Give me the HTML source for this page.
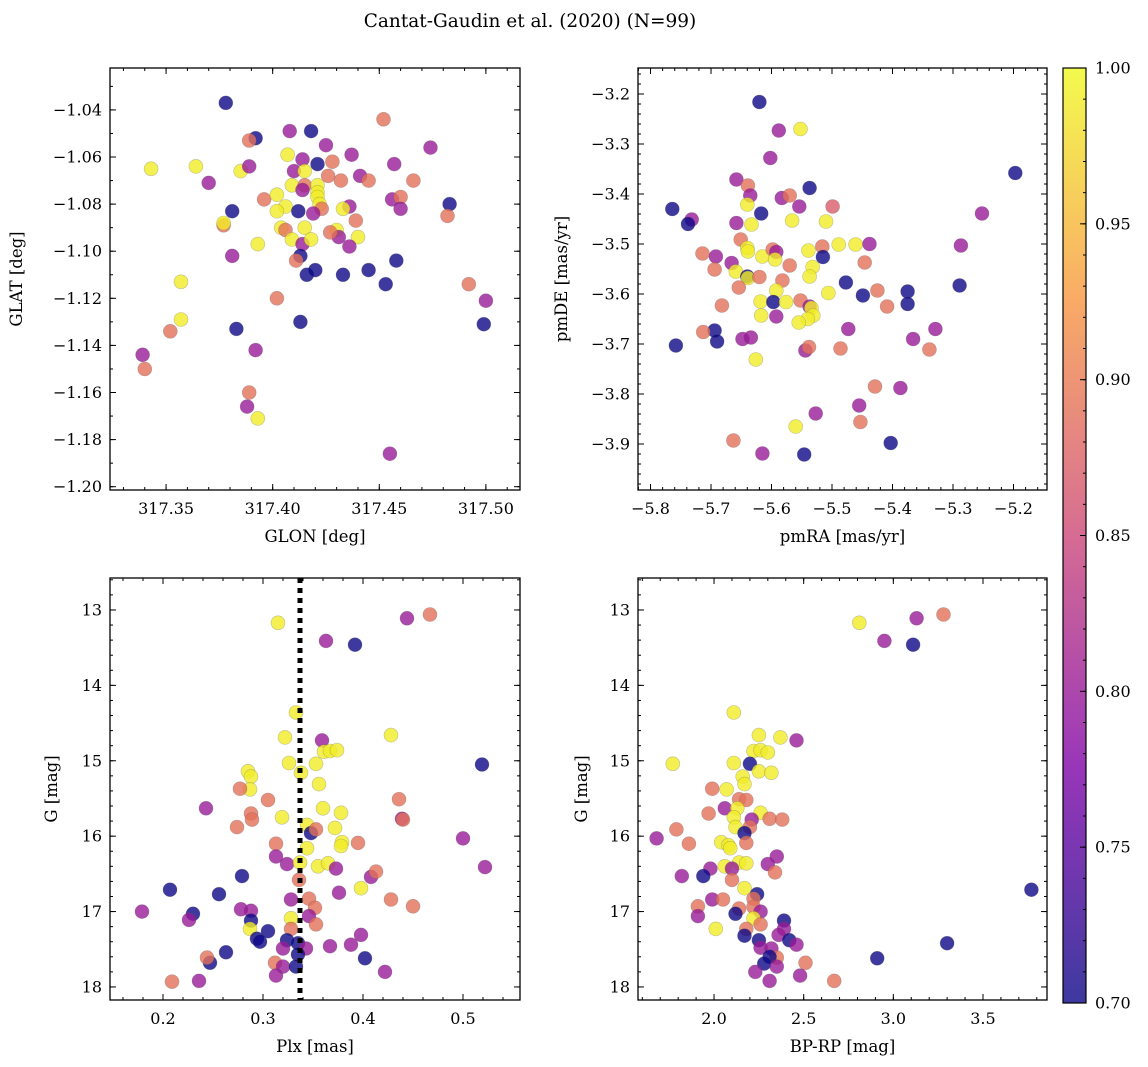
<!DOCTYPE html>
<html><head><meta charset="utf-8"><style>
html,body{margin:0;padding:0;background:#fff;}
svg{display:block;font-family:"DejaVu Serif","Liberation Serif",serif;}
</style></head><body>
<svg id="fig" width="1148" height="1067" viewBox="0 0 1148 1067" xmlns="http://www.w3.org/2000/svg">
<text x="530" y="27" font-size="18.5" text-anchor="middle">Cantat-Gaudin et al. (2020) (N=99)</text>
</svg>
<script>
// Panel 1: GLON vs GLAT
const p1x=[317.378,317.392,317.389,317.408,317.418,317.425,317.452,317.474,317.343,317.364,317.385,317.389,317.370,317.407,317.414,317.421,317.428,317.437,317.457,317.410,317.415,317.426,317.432,317.441,317.445,317.466,317.409,317.415,317.421,317.421,317.414,317.421,317.422,317.423,317.396,317.402,317.406,317.402,317.412,317.419,317.436,317.433,317.456,317.460,317.460,317.439,317.483,317.482,317.381,317.377,317.377,317.404,317.406,317.415,317.409,317.414,317.418,317.430,317.431,317.427,317.440,317.436,317.393,317.381,317.413,317.411,317.416,317.420,317.433,317.445,317.458,317.453,317.492,317.500,317.499,317.357,317.402,317.413,317.357,317.352,317.383,317.339,317.340,317.392,317.389,317.388,317.393,317.455];
const p1y=[-1.037,-1.052,-1.053,-1.049,-1.049,-1.055,-1.044,-1.056,-1.065,-1.064,-1.066,-1.064,-1.071,-1.059,-1.061,-1.063,-1.062,-1.059,-1.063,-1.066,-1.066,-1.068,-1.070,-1.068,-1.070,-1.070,-1.072,-1.072,-1.072,-1.075,-1.074,-1.077,-1.080,-1.082,-1.078,-1.076,-1.081,-1.083,-1.083,-1.084,-1.081,-1.082,-1.078,-1.077,-1.082,-1.087,-1.080,-1.085,-1.083,-1.089,-1.088,-1.090,-1.091,-1.090,-1.095,-1.097,-1.095,-1.091,-1.094,-1.092,-1.094,-1.098,-1.097,-1.102,-1.102,-1.104,-1.110,-1.108,-1.110,-1.108,-1.104,-1.114,-1.114,-1.121,-1.131,-1.113,-1.120,-1.130,-1.129,-1.134,-1.133,-1.144,-1.150,-1.142,-1.160,-1.166,-1.171,-1.186];
const p1c=[0.70,0.70,0.89,0.80,0.70,0.80,0.89,0.80,0.99,0.99,0.99,0.80,0.80,0.99,0.80,0.70,0.89,0.80,0.80,0.80,0.99,0.89,0.89,0.80,0.89,0.89,0.99,0.89,0.99,0.99,0.80,0.99,0.99,0.89,0.89,0.99,0.99,0.99,0.70,0.80,0.80,0.99,0.80,0.89,0.80,0.89,0.70,0.89,0.70,0.89,0.99,0.99,0.89,0.99,0.99,0.80,0.99,0.99,0.80,0.89,0.99,0.80,0.99,0.80,0.70,0.89,0.70,0.70,0.70,0.70,0.70,0.70,0.89,0.80,0.70,0.99,0.89,0.70,0.99,0.89,0.70,0.80,0.89,0.80,0.89,0.80,0.99,0.80];
// Panel 2: pmRA vs pmDE
const p2x=[-5.620,-5.588,-5.552,-5.602,-5.197,-5.658,-5.639,-5.537,-5.635,-5.583,-5.570,-5.554,-5.499,-5.764,-5.732,-5.738,-5.640,-5.617,-5.658,-5.633,-5.566,-5.510,-5.252,-5.651,-5.714,-5.692,-5.640,-5.639,-5.615,-5.598,-5.592,-5.594,-5.666,-5.694,-5.659,-5.640,-5.639,-5.620,-5.570,-5.539,-5.516,-5.515,-5.532,-5.537,-5.489,-5.461,-5.438,-5.446,-5.654,-5.582,-5.592,-5.618,-5.597,-5.576,-5.552,-5.537,-5.534,-5.531,-5.540,-5.555,-5.506,-5.477,-5.449,-5.425,-5.409,-5.375,-5.375,-5.289,-5.287,-5.617,-5.592,-5.682,-5.694,-5.690,-5.713,-5.758,-5.648,-5.634,-5.626,-5.544,-5.538,-5.486,-5.473,-5.366,-5.339,-5.329,-5.429,-5.387,-5.455,-5.527,-5.453,-5.560,-5.403,-5.663,-5.615,-5.546];
const p2y=[-3.216,-3.273,-3.270,-3.328,-3.358,-3.371,-3.383,-3.388,-3.403,-3.408,-3.403,-3.425,-3.425,-3.430,-3.451,-3.460,-3.421,-3.439,-3.458,-3.461,-3.453,-3.455,-3.439,-3.491,-3.519,-3.525,-3.508,-3.515,-3.525,-3.511,-3.516,-3.531,-3.538,-3.551,-3.555,-3.565,-3.568,-3.566,-3.543,-3.513,-3.505,-3.526,-3.546,-3.565,-3.501,-3.501,-3.500,-3.537,-3.587,-3.573,-3.593,-3.615,-3.616,-3.616,-3.613,-3.625,-3.628,-3.643,-3.650,-3.657,-3.598,-3.577,-3.603,-3.593,-3.625,-3.595,-3.620,-3.583,-3.503,-3.643,-3.645,-3.623,-3.673,-3.695,-3.676,-3.703,-3.690,-3.687,-3.731,-3.713,-3.706,-3.709,-3.670,-3.690,-3.711,-3.670,-3.785,-3.788,-3.823,-3.839,-3.856,-3.865,-3.898,-3.893,-3.919,-3.921];
const p2c=[0.70,0.80,0.99,0.80,0.70,0.80,0.89,0.70,0.80,0.80,0.89,0.80,0.87,0.70,0.80,0.70,0.99,0.70,0.80,0.99,0.99,0.99,0.80,0.89,0.89,0.80,0.99,0.99,0.99,0.89,0.80,0.99,0.80,0.89,0.99,0.70,0.99,0.89,0.89,0.99,0.89,0.70,0.99,0.99,0.99,0.99,0.80,0.89,0.89,0.89,0.99,0.99,0.70,0.99,0.89,0.80,0.99,0.99,0.99,0.99,0.99,0.70,0.70,0.89,0.89,0.70,0.70,0.70,0.80,0.99,0.80,0.89,0.70,0.70,0.89,0.70,0.80,0.80,0.99,0.80,0.89,0.89,0.80,0.80,0.89,0.80,0.89,0.80,0.80,0.80,0.89,0.99,0.70,0.89,0.80,0.70];
// Panel 3: Plx vs G
const plxRef=0.337;
const p3x=[0.315,0.444,0.467,0.363,0.392,0.333,0.322,0.359,0.361,0.367,0.374,0.428,0.519,0.326,0.338,0.353,0.285,0.288,0.287,0.277,0.356,0.305,0.436,0.243,0.360,0.378,0.288,0.289,0.319,0.274,0.344,0.348,0.353,0.372,0.439,0.440,0.500,0.313,0.379,0.378,0.395,0.344,0.313,0.324,0.337,0.355,0.365,0.373,0.522,0.279,0.336,0.408,0.413,0.398,0.207,0.256,0.376,0.328,0.346,0.428,0.450,0.352,0.179,0.278,0.288,0.230,0.226,0.288,0.346,0.328,0.353,0.287,0.328,0.305,0.294,0.297,0.324,0.335,0.398,0.320,0.343,0.367,0.388,0.263,0.335,0.402,0.247,0.244,0.312,0.320,0.333,0.313,0.422,0.209,0.236];
const p3y=[13.17,13.11,13.06,13.41,13.46,14.36,14.69,14.73,14.88,14.87,14.86,14.66,15.05,15.03,15.16,15.04,15.14,15.21,15.38,15.37,15.31,15.52,15.51,15.63,15.63,15.69,15.70,15.78,15.75,15.88,15.85,15.96,15.91,15.89,15.77,15.78,16.03,16.10,16.08,16.13,16.09,16.16,16.27,16.37,16.35,16.40,16.36,16.43,16.41,16.53,16.58,16.54,16.47,16.69,16.71,16.77,16.75,16.84,16.83,16.84,16.93,16.95,17.00,16.97,16.99,17.03,17.11,17.12,17.06,17.09,17.17,17.23,17.23,17.26,17.36,17.40,17.38,17.42,17.31,17.49,17.49,17.46,17.44,17.54,17.57,17.62,17.68,17.61,17.68,17.73,17.73,17.85,17.80,17.93,17.92];
const p3c=[0.99,0.80,0.89,0.80,0.70,0.99,0.99,0.80,0.99,0.99,0.99,0.99,0.70,0.99,0.99,0.99,0.99,0.99,0.99,0.89,0.99,0.89,0.89,0.80,0.99,0.99,0.89,0.89,0.99,0.89,0.99,0.70,0.89,0.99,0.80,0.89,0.80,0.89,0.99,0.99,0.89,0.99,0.80,0.80,0.99,0.99,0.99,0.80,0.80,0.70,0.89,0.80,0.89,0.99,0.70,0.70,0.80,0.80,0.89,0.89,0.89,0.89,0.80,0.80,0.80,0.70,0.80,0.70,0.80,0.99,0.89,0.99,0.89,0.70,0.70,0.70,0.70,0.70,0.80,0.80,0.80,0.80,0.80,0.70,0.70,0.70,0.70,0.89,0.89,0.80,0.70,0.80,0.80,0.89,0.80];
// Panel 4: BP-RP vs G
const p4x=[2.81,3.13,3.28,2.95,3.11,2.11,2.25,2.37,2.46,2.22,2.26,2.30,1.77,2.11,2.20,2.25,2.32,2.16,2.17,1.99,2.07,2.14,2.18,2.06,2.13,1.97,2.11,2.26,2.21,2.31,2.38,1.79,2.12,2.20,2.17,1.68,1.86,2.04,2.08,2.09,2.18,2.35,2.30,2.14,2.18,2.06,2.10,1.98,2.34,1.82,1.94,2.10,3.77,2.17,2.24,2.22,1.99,2.05,1.91,2.22,2.14,1.91,2.12,2.26,2.22,2.26,2.01,2.18,2.39,2.39,2.17,2.25,2.36,2.42,2.46,2.26,2.32,3.30,2.35,2.31,2.28,2.35,2.51,2.91,2.23,2.48,2.31,2.67];
const p4y=[13.17,13.11,13.06,13.41,13.46,14.36,14.66,14.69,14.73,14.87,14.86,14.89,15.04,15.03,15.04,15.14,15.16,15.21,15.31,15.37,15.38,15.51,15.52,15.63,15.63,15.70,15.75,15.69,15.78,15.77,15.78,15.91,15.88,15.88,15.96,16.03,16.10,16.08,16.12,16.16,16.09,16.27,16.37,16.35,16.36,16.40,16.43,16.43,16.48,16.53,16.53,16.58,16.71,16.69,16.77,16.83,16.84,16.84,16.93,16.94,16.96,17.06,17.03,17.00,17.09,17.17,17.23,17.23,17.12,17.23,17.32,17.38,17.31,17.38,17.44,17.48,17.49,17.42,17.61,17.60,17.69,17.73,17.68,17.62,17.80,17.85,17.92,17.92];
const p4c=[0.99,0.80,0.89,0.80,0.70,0.99,0.99,0.99,0.80,0.99,0.99,0.99,0.99,0.99,0.70,0.99,0.99,0.99,0.99,0.89,0.99,0.89,0.89,0.80,0.99,0.89,0.99,0.99,0.80,0.89,0.89,0.89,0.99,0.89,0.70,0.80,0.89,0.99,0.99,0.99,0.89,0.80,0.80,0.99,0.99,0.99,0.80,0.80,0.89,0.80,0.70,0.89,0.70,0.99,0.70,0.89,0.80,0.89,0.89,0.89,0.89,0.80,0.70,0.80,0.99,0.89,0.99,0.89,0.70,0.80,0.70,0.70,0.80,0.70,0.80,0.80,0.80,0.70,0.89,0.70,0.70,0.80,0.89,0.70,0.80,0.80,0.80,0.89];
// Tick labels
const p1xTicks=[317.35,317.40,317.45,317.50];
const p1yTicks=[-1.04,-1.06,-1.08,-1.10,-1.12,-1.14,-1.16,-1.18,-1.20];
const p2xTicks=[-5.8,-5.7,-5.6,-5.5,-5.4,-5.3,-5.2];
const p2yTicks=[-3.2,-3.3,-3.4,-3.5,-3.6,-3.7,-3.8,-3.9];
const p3xTicks=[0.2,0.3,0.4,0.5];
const gTicks=[13,14,15,16,17,18];
const p4xTicks=[2.0,2.5,3.0,3.5];
const cbTicks=[0.70,0.75,0.80,0.85,0.90,0.95,1.00];

const NS="http://www.w3.org/2000/svg";
const svg=document.getElementById('fig');
function mk(tag,attrs,parent){const e=document.createElementNS(NS,tag);for(const k in attrs)e.setAttribute(k,attrs[k]);(parent||svg).appendChild(e);return e;}
const stops=[[0,[13,8,135]],[0.25,[126,3,168]],[0.5,[204,71,120]],[0.75,[248,149,64]],[1,[240,249,33]]];
function plasma(v){let t=Math.max(0,Math.min(1,(v-0.7)/0.3));for(let i=0;i<stops.length-1;i++){const a=stops[i],b=stops[i+1];if(t<=b[0]){const f=(t-a[0])/(b[0]-a[0]);const c=a[1].map((x,j)=>Math.round(x+(b[1][j]-x)*f));return 'rgb('+c.join(',')+')';}}return 'rgb(240,249,33)';}
function fmt(v,d){return (v<0?'\u2212':'')+Math.abs(v).toFixed(d);}

function panel(o){
  const g=mk('g',{});
  
  
  const sx=v=>o.L+(v-o.x0)/(o.x1-o.x0)*(o.R-o.L);
  const sy=v=>o.T+(v-o.y0)/(o.y1-o.y0)*(o.B-o.T);
  const pg=mk('g',{},g);
  
  
  for(let i=0;i<o.xs.length;i++){
    const c=mk('circle',{cx:sx(o.xs[i]).toFixed(1),cy:sy(o.ys[i]).toFixed(1),r:7,fill:plasma(o.cs[i]),'fill-opacity':0.8,stroke:'#555','stroke-opacity':0.35,'stroke-width':0.6},pg);
    
    
  }
  if(o.vline!==undefined){
    const l=mk('line',{x1:sx(o.vline),x2:sx(o.vline),y1:o.T,y2:o.B,stroke:'#000','stroke-width':5,'stroke-dasharray':'5,5'},g);
    
    
  }
  const fr=mk('rect',{x:o.L,y:o.T,width:o.R-o.L,height:o.B-o.T,fill:'none',stroke:'#000','stroke-width':1.3},g);
  
  
  const lo=Math.min(o.x0,o.x1),hi=Math.max(o.x0,o.x1);
  for(let v=Math.ceil(lo/o.xm-1e-6)*o.xm;v<=hi+1e-9;v+=o.xm){const x=sx(v);mk('line',{x1:x,x2:x,y1:o.B,y2:o.B-3,stroke:'#000'},g);mk('line',{x1:x,x2:x,y1:o.T,y2:o.T+3,stroke:'#000'},g);}
  const ylo=Math.min(o.y0,o.y1),yhi=Math.max(o.y0,o.y1);
  for(let v=Math.ceil(ylo/o.ym-1e-6)*o.ym;v<=yhi+1e-9;v+=o.ym){const y=sy(v);mk('line',{x1:o.L,x2:o.L+3,y1:y,y2:y,stroke:'#000'},g);mk('line',{x1:o.R,x2:o.R-3,y1:y,y2:y,stroke:'#000'},g);}
  o.xt.forEach(v=>{const x=sx(v);mk('line',{x1:x,x2:x,y1:o.B,y2:o.B-6,stroke:'#000'},g);mk('line',{x1:x,x2:x,y1:o.T,y2:o.T+6,stroke:'#000'},g);
    const t=mk('text',{x:x,y:o.B+24,'font-size':16,'text-anchor':'middle'},g);t.textContent=fmt(v,o.xd);
    
    });
  o.yt.forEach(v=>{const y=sy(v);mk('line',{x1:o.L,x2:o.L+6,y1:y,y2:y,stroke:'#000'},g);mk('line',{x1:o.R,x2:o.R-6,y1:y,y2:y,stroke:'#000'},g);
    const t=mk('text',{x:o.L-8,y:y+5.5,'font-size':16,'text-anchor':'end'},g);t.textContent=fmt(v,o.yd);
    
    });
  const xl=mk('text',{x:(o.L+o.R)/2,y:o.B+52,'font-size':16.5,'text-anchor':'middle'},g);xl.textContent=o.xlab;
  
  
  const yl=mk('text',{x:0,y:0,'font-size':16.5,'text-anchor':'middle',transform:'translate('+o.ylx+','+(o.T+o.B)/2+') rotate(-90)'},g);yl.textContent=o.ylab;
  
  
}
panel({name:'glon-glat-panel',L:110,R:520,T:68,B:490,x0:317.3237,x1:317.516,y0:-1.0222,y1:-1.2014,xs:p1x,ys:p1y,cs:p1c,xt:p1xTicks,yt:p1yTicks,xm:0.01,ym:0.01,xd:2,yd:2,xlab:'GLON [deg]',ylab:'GLAT [deg]',ylx:22});
panel({name:'proper-motion-panel',L:638,R:1047,T:68,B:490,x0:-5.8207,x1:-5.1446,y0:-3.148,y1:-3.992,xs:p2x,ys:p2y,cs:p2c,xt:p2xTicks,yt:p2yTicks,xm:0.02,ym:0.02,xd:1,yd:1,xlab:'pmRA [mas/yr]',ylab:'pmDE [mas/yr]',ylx:567});
panel({name:'parallax-cmd-panel',L:110,R:520,T:578,B:1000,x0:0.147,x1:0.557,y0:12.576,y1:18.173,xs:p3x,ys:p3y,cs:p3c,xt:p3xTicks,yt:gTicks,xm:0.02,ym:0.2,xd:1,yd:0,xlab:'Plx [mas]',ylab:'G [mag]',ylx:57,vline:plxRef});
panel({name:'color-magnitude-panel',L:638,R:1047,T:578,B:1000,x0:1.576,x1:3.857,y0:12.576,y1:18.173,xs:p4x,ys:p4y,cs:p4c,xt:p4xTicks,yt:gTicks,xm:0.1,ym:0.2,xd:1,yd:0,xlab:'BP-RP [mag]',ylab:'G [mag]',ylx:587});

const cb=mk('g',{});


const defs=mk('defs',{},cb);
const lg=mk('linearGradient',{id:'pl',x1:0,y1:1,x2:0,y2:0},defs);
for(let i=0;i<=20;i++){mk('stop',{offset:i/20,'stop-color':plasma(0.7+0.3*i/20),'stop-opacity':0.8},lg);}
const CT=68,CB=1003,CL=1063,CR=1086;
mk('rect',{x:CL,y:CT,width:CR-CL,height:CB-CT,fill:'url(#pl)',stroke:'#000','stroke-width':1.2},cb);
const cy=v=>CB-(v-0.7)/0.3*(CB-CT);
for(let v=0.70;v<=1.0001;v+=0.01){mk('line',{x1:CR,x2:CR-3,y1:cy(v),y2:cy(v),stroke:'#000'},cb);}
cbTicks.forEach(v=>{mk('line',{x1:CR,x2:CR-6,y1:cy(v),y2:cy(v),stroke:'#000'},cb);
  const t=mk('text',{x:CR+9,y:cy(v)+5.5,'font-size':16},cb);t.textContent=v.toFixed(2);
  
  });
</script>
</body></html>
